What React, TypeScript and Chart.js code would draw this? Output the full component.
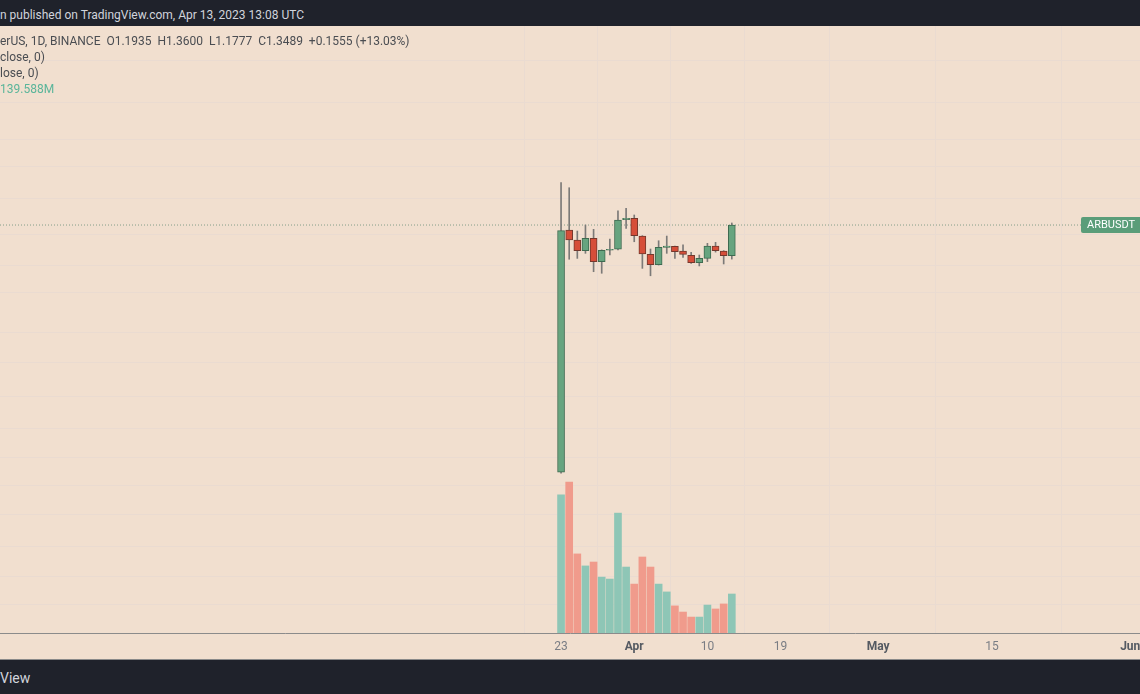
import React, { useEffect, useRef } from "react";
import { Chart, registerables } from "chart.js";

Chart.register(...registerables);

// ---- data (ARB/USDT daily, Binance) ----
const dates = [
  "2023-03-23", "2023-03-24", "2023-03-25", "2023-03-26", "2023-03-27", "2023-03-28",
  "2023-03-29", "2023-03-30", "2023-03-31", "2023-04-01", "2023-04-02", "2023-04-03",
  "2023-04-04", "2023-04-05", "2023-04-06", "2023-04-07", "2023-04-08", "2023-04-09",
  "2023-04-10", "2023-04-11", "2023-04-12", "2023-04-13",
];
const opens = [0.504, 1.3225, 1.271, 1.218, 1.279, 1.166, 1.22, 1.225, 1.378, 1.386, 1.291, 1.2,
  1.152, 1.234, 1.239, 1.216, 1.196, 1.161, 1.181, 1.241, 1.216, 1.1935];
const highs = [1.597, 1.565, 1.317, 1.349, 1.326, 1.222, 1.276, 1.428, 1.442, 1.404, 1.293, 1.226,
  1.267, 1.291, 1.241, 1.246, 1.21, 1.197, 1.254, 1.259, 1.218, 1.36];
const lows = [0.502, 1.177, 1.181, 1.205, 1.12, 1.113, 1.197, 1.222, 1.331, 1.262, 1.135, 1.102,
  1.15, 1.205, 1.181, 1.186, 1.158, 1.146, 1.166, 1.211, 1.155, 1.1777];
const closes = [1.319, 1.271, 1.218, 1.279, 1.166, 1.22, 1.225, 1.376, 1.386, 1.293, 1.202, 1.152,
  1.234, 1.241, 1.213, 1.2, 1.161, 1.181, 1.241, 1.218, 1.1935, 1.3489];
const volumesM = [494, 540, 283, 240, 254, 200, 193, 429, 236, 175, 272, 236, 175, 147, 97, 75,
  57, 57, 100, 86, 104, 139.588];

const tickDays = [0, 9, 18, 27, 39, 53, 70];
const tickLabels = ["23", "Apr", "10", "19", "May", "15", "Jun"];
const monthLabels = ["Apr", "May", "Jun"];
const priceGrid = [2.6, 2.2, 1.9, 1.7, 1.5, 1.3, 1.15, 1.03, 0.88, 0.78, 0.68, 0.6, 0.535,
  0.478, 0.425, 0.375, 0.332, 0.297];

const symbol = "ARBUSDT";
const xMin = -69.0;
const xMax = 71.2;
const yMin = 0.2655;
const yMax = 2.981;
const volMax = 2172;

const BG = "#f1dfcf";
const GRID = "#eadbd1";
const UP_FILL = "#67a47f";
const UP_LINE = "#3e6a50";
const DN_FILL = "#d64e39";
const DN_LINE = "#74382d";
const WICK = "#7c7a78";
const VOL_UP = "#8ec6b6";
const VOL_DN = "#f09b8c";

const base = new Date(dates[0] + "T00:00:00Z").getTime();
const days = dates.map((d) => Math.round((new Date(d + "T00:00:00Z").getTime() - base) / 86400000));
const isUp = closes.map((c, i) => c >= opens[i]);

const lastPricePlugin = {
  id: "lastPriceLabel",
  afterDatasetsDraw(chart: any) {
    const { ctx, scales, chartArea } = chart;
    const y = scales.y.getPixelForValue(closes[closes.length - 1]);
    const x0 = chartArea.right - 59;
    const h = 16;
    ctx.save();
    ctx.fillStyle = "#5a9d79";
    ctx.beginPath();
    if (ctx.roundRect) ctx.roundRect(x0, y - h / 2, 70, h, 2);
    else ctx.rect(x0, y - h / 2, 70, h);
    ctx.fill();
    ctx.fillStyle = "#ffffff";
    ctx.font = "11px Roboto, 'Noto Sans', sans-serif";
    ctx.textBaseline = "middle";
    ctx.fillText(symbol, x0 + 6, y + 0.5);
    ctx.restore();
  },
};

export default function App() {
  const canvasRef = useRef<HTMLCanvasElement | null>(null);

  useEffect(() => {
    document.body.style.margin = "0";
    const canvas = canvasRef.current;
    if (!canvas) return;
    const last = closes[closes.length - 1];
    const chart = new Chart(canvas, {
      type: "bar",
      data: {
        datasets: [
          {
            type: "bar",
            label: "body",
            order: 0,
            data: days.map((d, i) => ({ x: d, y: [opens[i], closes[i]] })) as any,
            backgroundColor: isUp.map((u) => (u ? UP_FILL : DN_FILL)),
            borderColor: isUp.map((u) => (u ? UP_LINE : DN_LINE)),
            borderWidth: 1,
            borderSkipped: false,
            barThickness: 7,
            grouped: false,
            yAxisID: "y",
          } as any,
          {
            type: "bar",
            label: "wick",
            order: 1,
            data: days.map((d, i) => ({ x: d, y: [lows[i], highs[i]] })) as any,
            backgroundColor: WICK,
            borderWidth: 0,
            barThickness: 1,
            grouped: false,
            yAxisID: "y",
          } as any,
          {
            type: "bar",
            label: "volume",
            order: 2,
            data: days.map((d, i) => ({ x: d, y: volumesM[i] })) as any,
            backgroundColor: isUp.map((u) => (u ? VOL_UP : VOL_DN)),
            borderWidth: 0,
            barThickness: 7,
            grouped: false,
            yAxisID: "yv",
          } as any,
          {
            type: "line",
            label: "last",
            order: 3,
            data: [
              { x: xMin, y: last },
              { x: xMax, y: last },
            ] as any,
            borderColor: "rgba(120,150,130,0.9)",
            borderWidth: 1,
            borderDash: [1, 2],
            pointRadius: 0,
            yAxisID: "y",
          } as any,
        ],
      },
      options: {
        animation: false,
        responsive: false,
        devicePixelRatio: 1,
        layout: { padding: 0 },
        plugins: { legend: { display: false }, tooltip: { enabled: false } },
        scales: {
          x: {
            type: "linear",
            min: xMin,
            max: xMax,
            offset: false,
            afterBuildTicks: (s: any) => {
              s.ticks = tickDays.map((v) => ({ value: v }));
            },
            afterFit: (s: any) => {
              s.height = 26;
              s.paddingLeft = 0;
              s.paddingRight = 0;
            },
            ticks: {
              autoSkip: false,
              maxRotation: 0,
              padding: 7,
              color: (c: any) => (monthLabels.includes(tickLabels[tickDays.indexOf(c.tick?.value)]) ? "#555a62" : "#7a7d84"),
              font: (c: any) => ({
                family: "Roboto, 'Noto Sans', sans-serif",
                size: 12,
                weight: monthLabels.includes(tickLabels[tickDays.indexOf(c.tick?.value)]) ? "bold" : "normal",
              }),
              callback: (v: any) => {
                const k = tickDays.indexOf(Number(v));
                return k >= 0 ? tickLabels[k] : "";
              },
            },
            grid: { color: GRID, drawTicks: false, lineWidth: 1 },
            border: { display: true, color: "#8b8b8b", width: 1 },
          },
          y: {
            type: "logarithmic",
            min: yMin,
            max: yMax,
            bounds: "data",
            afterBuildTicks: (s: any) => {
              s.ticks = priceGrid.map((v) => ({ value: v }));
            },
            afterFit: (s: any) => {
              s.width = 0;
            },
            ticks: { display: false },
            grid: { color: GRID, drawTicks: false, lineWidth: 1 },
            border: { display: false },
          },
          yv: {
            type: "linear",
            min: 0,
            max: volMax,
            display: false,
          },
        } as any,
      },
      plugins: [lastPricePlugin],
    } as any);
    return () => chart.destroy();
  }, []);

  const font = "Roboto, 'Noto Sans', sans-serif";
  const legendStyle: React.CSSProperties = {
    position: "absolute",
    left: 0,
    fontSize: 12,
    lineHeight: "16px",
    color: "#4a4d52",
    whiteSpace: "pre",
  };

  return (
    <div
      style={{
        position: "fixed",
        left: 0,
        top: 0,
        width: 1140,
        height: 694,
        background: BG,
        overflow: "hidden",
        fontFamily: font,
      }}
    >
      <div
        style={{
          position: "absolute",
          left: 0,
          top: 0,
          width: 1140,
          height: 26,
          background: "#1f222b",
          color: "#d1d4dc",
          fontSize: 12,
          lineHeight: "30px",
          whiteSpace: "pre",
        }}
      >
        n published on TradingView.com, Apr 13, 2023 13:08 UTC
      </div>
      <div style={{ position: "absolute", left: 0, top: 26, width: 1140, height: 633 }}>
        <canvas ref={canvasRef} width={1140} height={633} style={{ display: "block" }} />
      </div>
      <div style={{ ...legendStyle, top: 33 }}>
        {"erUS, 1D, BINANCE  O1.1935  H1.3600  L1.1777  C1.3489  +0.1555 (+13.03%)"}
      </div>
      <div style={{ ...legendStyle, top: 49 }}>{"close, 0)"}</div>
      <div style={{ ...legendStyle, top: 65 }}>{"lose, 0)"}</div>
      <div style={{ ...legendStyle, top: 81, color: "#5ab59a" }}>{"139.588M"}</div>
      <div
        style={{
          position: "absolute",
          left: 0,
          top: 659,
          width: 1140,
          height: 35,
          background: "#1f222b",
          borderTop: "1px solid #8a8a8a",
          boxSizing: "border-box",
          color: "#d1d4dc",
          fontSize: 14,
          lineHeight: "36px",
          whiteSpace: "pre",
        }}
      >
        View
      </div>
    </div>
  );
}
